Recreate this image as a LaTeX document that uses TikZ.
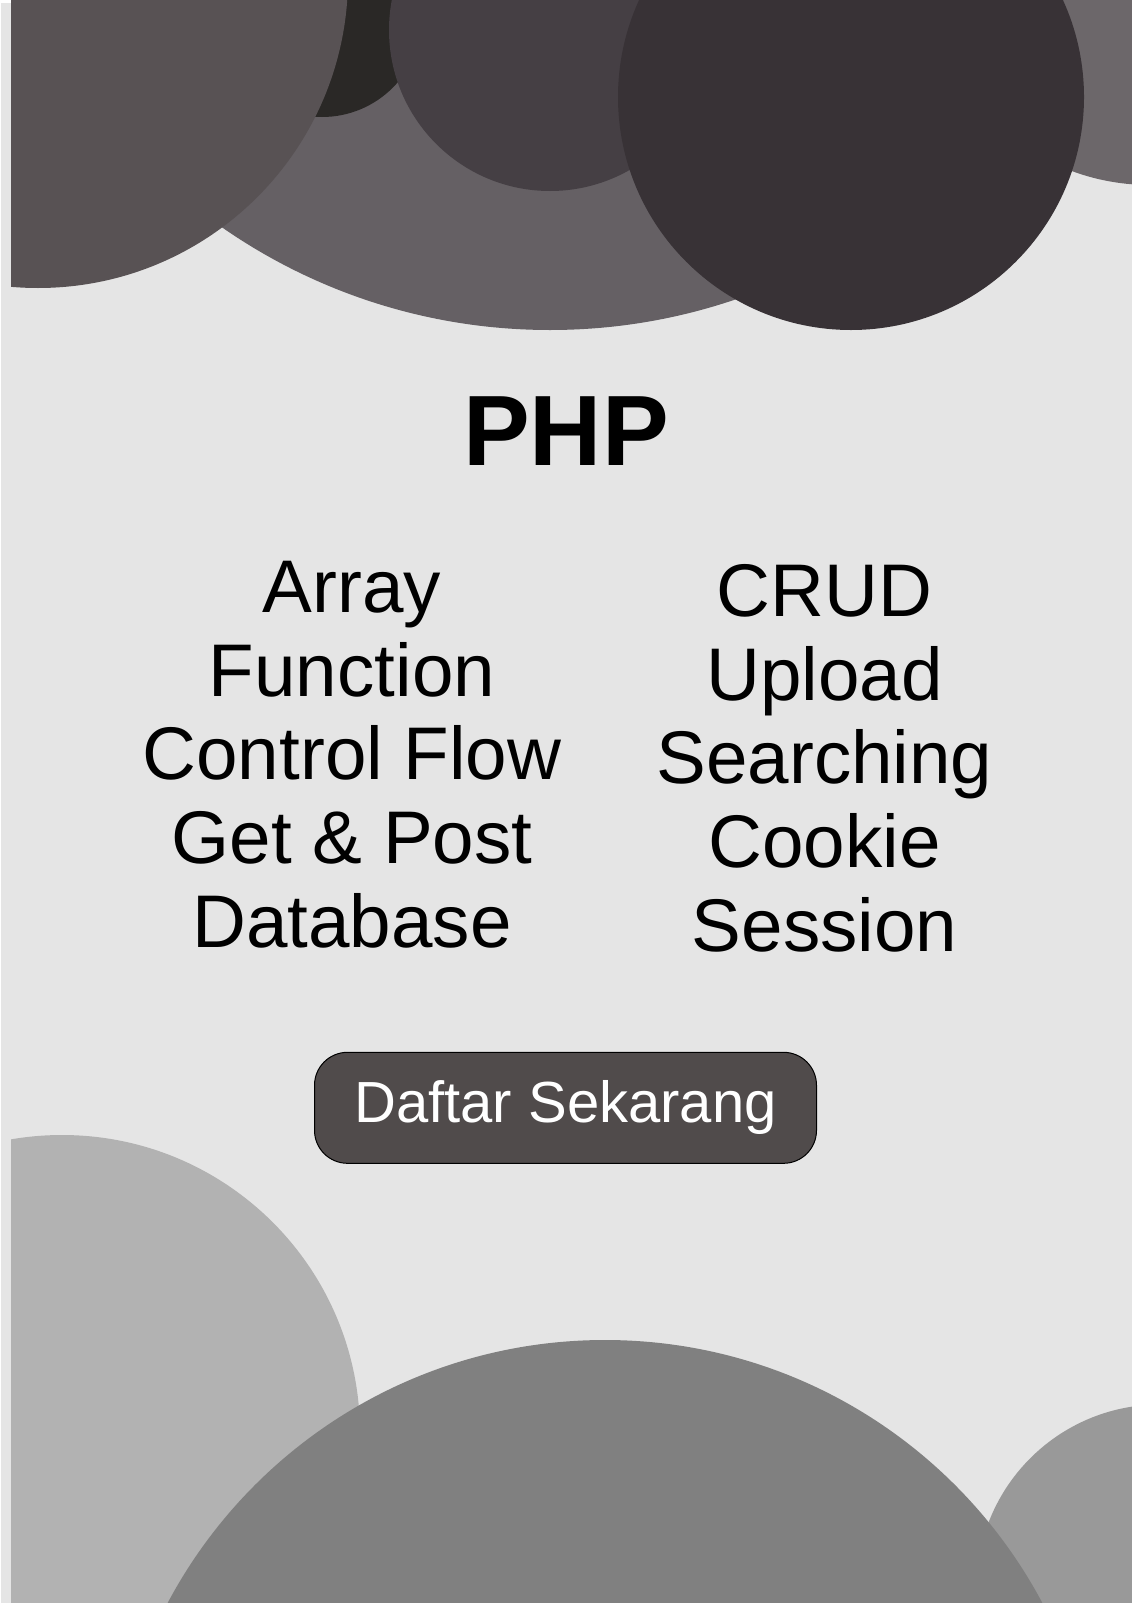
\documentclass[tikz,border=0pt]{standalone}
\usepackage{fontspec}
\setmainfont{Liberation Sans}
\usetikzlibrary{positioning}

\definecolor{pagegray}{HTML}{E5E5E5}
\definecolor{blobA}{HTML}{585254}
\definecolor{blobB}{HTML}{656064}
\definecolor{blobC}{HTML}{453F44}
\definecolor{blobD}{HTML}{383236}
\definecolor{blobE}{HTML}{2A2826}
\definecolor{blobF}{HTML}{6C676A}
\definecolor{blobG}{HTML}{B2B2B2}
\definecolor{blobH}{HTML}{808080}
\definecolor{blobI}{HTML}{999999}
\definecolor{btngray}{HTML}{504B4B}

\begin{document}
\begin{tikzpicture}[
    x=1pt, y=-1pt,
    title/.style={font=\fontsize{100}{110}\selectfont\bfseries, inner sep=0pt, anchor=base},
    topic/.style={font=\fontsize{74.6}{84}\selectfont, inner sep=0pt, anchor=base},
    nextline/.style={below=83.6pt of #1, anchor=base},
    button/.style={draw=black, line width=1pt, fill=btngray, text=white, rounded corners=33pt,
      minimum width=502pt, minimum height=111pt, inner sep=0pt, font=\fontsize{58}{68}\selectfont}
  ]
    \useasboundingbox (0,0) rectangle (1132,1603);
    \fill[white] (0,0) rectangle (1132,1603);
    \fill[pagegray] (1,3) rectangle (1132,1603);

    % circles at the top and bottom
    \begin{scope}
      \clip (11,0) rectangle (1132,1603);
      \fill[blobB] (550,-245) circle (575pt);
      \fill[blobF] (1150,-40) circle (225pt);
      \fill[blobE] (322,17) circle (100pt);
      \fill[blobC] (550,30) circle (161pt);
      \fill[blobA] (38,-22) circle (310pt);
      \fill[blobD] (851,97) circle (233pt);
      \fill[blobG] (62,1433) circle (298pt);
      \fill[blobI] (1160,1588) circle (183.5pt);
      \fill[blobH] (605,1835) circle (495pt);
    \end{scope}

    \node[title] (php) at (566,465) {PHP};

    % left column
    \node[topic] (arr) at (352,612.7) {Array};
    \node[topic, nextline=arr.base] (func) {Function};
    \node[topic, nextline=func.base] (ctrl) {Control Flow};
    \node[topic, nextline=ctrl.base] (getpost) {Get \& Post};
    \node[topic, nextline=getpost.base] (db) {Database};

    % right column
    \node[topic] (crud) at (824.5,616.7) {CRUD};
    \node[topic, nextline=crud.base] (upload) {Upload};
    \node[topic, nextline=upload.base] (search) {Searching};
    \node[topic, nextline=search.base] (cookie) {Cookie};
    \node[topic, nextline=cookie.base] (session) {Session};

    \node[button] (daftar) at (565.5,1107.8) {Daftar Sekarang};
\end{tikzpicture}
\end{document}
